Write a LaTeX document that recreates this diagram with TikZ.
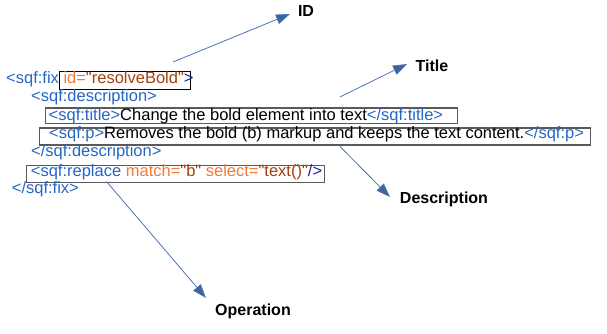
\documentclass[tikz,border=0pt]{standalone}
\usepackage{fontspec}
% plain ASCII quotes in the code lines, so no TeX ligature mapping
\setmainfont{Liberation Sans}[Ligatures=TeXOff]
\usetikzlibrary{arrows.meta}

\definecolor{tagblue}{HTML}{2466C4}
\definecolor{tagnavy}{HTML}{1E1EA0}
\definecolor{attrname}{HTML}{F07A32}
\definecolor{attrval}{HTML}{A0420E}
\definecolor{arrowblue}{HTML}{4A76B4}
\definecolor{boxgray}{HTML}{5A5A5A}

\newcommand{\tg}[1]{\textcolor{tagblue}{#1}}
\newcommand{\tn}[1]{\textcolor{tagnavy}{#1}}
\newcommand{\an}[1]{\textcolor{attrname}{#1}}
\newcommand{\av}[1]{\textcolor{attrval}{#1}}

\tikzset{
  code/.style={anchor=base west, inner sep=0pt, font=\fontsize{16.5}{18}\selectfont},
  frame/.style={draw=boxgray, line width=1.3pt, anchor=north west, inner sep=0pt, rectangle},
  label/.style={font=\fontsize{16}{18}\selectfont\bfseries, inner sep=0pt},
  callout/.style={draw=arrowblue, line width=0.8pt,
    -{Triangle[length=14pt,width=10pt,fill=arrowblue!85!black]}},
}

\begin{document}
\begin{tikzpicture}[x=1pt,y=-1pt]
\useasboundingbox (0,0) rectangle (607,333);

% frames around the annotated parts of the fix
\node[frame, draw=black, minimum width=130.5pt, minimum height=18pt] (idbox) at (59,70.5) {};
\node[frame, minimum width=412pt, minimum height=15.7pt] (titlebox) at (45,107.3) {};
\node[frame, minimum width=551pt, minimum height=17pt] (pbox) at (39,127.3) {};
\node[frame, minimum width=298pt, minimum height=17pt] (replbox) at (25.5,164.5) {};

% the quick fix source
\node[code] (l1) at (6,83.5) {\tg{<sqf:fix} \an{id=}\av{"resolveBold"}\tn{>}};
\node[code] (l2) at (31,101.7) {\tg{<sqf:description>}};
\node[code] (l3) at (48.5,120) {\tg{<sqf:title>}Change the bold element into text\tg{</sqf:title>}};
\node[code] (l4) at (49,138.3) {\tg{<sqf:p>}Removes the bold (b) markup and keeps the text content.\tg{</sqf:p>}};
\node[code] (l5) at (31,156.7) {\tg{</sqf:description>}};
\node[code] (l6) at (30.7,176.7) {\tg{<sqf:replace} \an{match=}\av{"b"} \an{select=}\av{"text()"}\tn{/>}};
\node[code] (l7) at (11.7,193.3) {\tg{</sqf:fix>}};

% callout labels
\node[label] (idlab) at (306,11) {ID};
\node[label] (titlelab) at (432,66) {Title};
\node[label] (desclab) at (444,199.5) {Description};
\node[label] (oplab) at (253,311.5) {Operation};

% callout arrows
\coordinate (idfrom) at (173,62);
\coordinate (idto) at (290,14);
\coordinate (titlefrom) at (340,97);
\coordinate (titleto) at (407,64);
\coordinate (descfrom) at (340,146.5);
\coordinate (descto) at (390,197);
\coordinate (opfrom) at (106.5,181.5);
\coordinate (opto) at (206,298);

\draw[callout] (idfrom) -- (idto);
\draw[callout] (titlefrom) -- (titleto);
\draw[callout] (descfrom) -- (descto);
\draw[callout] (opfrom) -- (opto);
\end{tikzpicture}
\end{document}
